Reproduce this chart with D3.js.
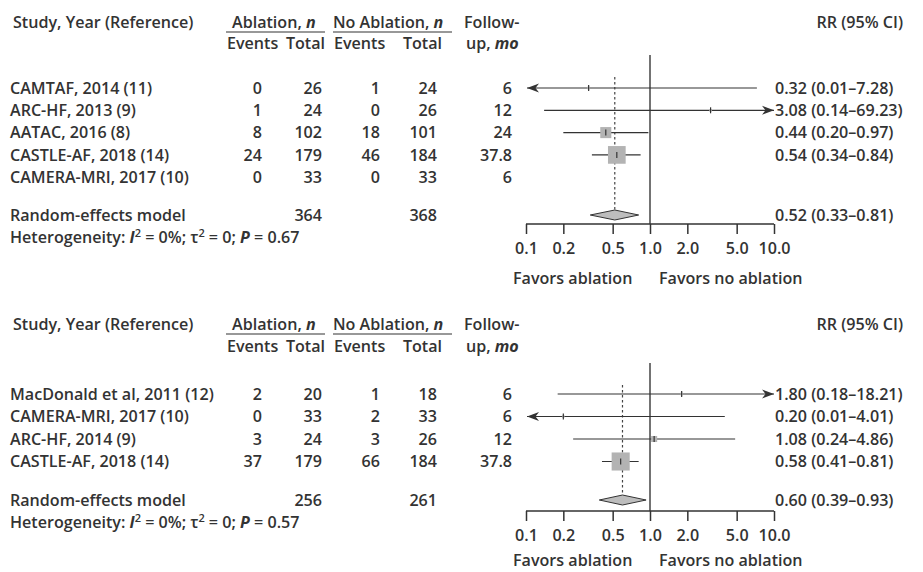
<!DOCTYPE html>
<html>
<head>
<meta charset="utf-8">
<script src="https://cdn.jsdelivr.net/npm/d3@7"></script>
<style>
  body { margin: 0; background: #fff; }
  svg { display: block; }
  text { font-family: "Open Sans", "Noto Sans", sans-serif; font-weight: 600; font-size: 16.1px; fill: #333; }
</style>
</head>
<body>
<svg id="chart" width="923" height="572"></svg>
<script>
// panel 1: all studies
const studies1 = ["CAMTAF, 2014 (11)", "ARC-HF, 2013 (9)", "AATAC, 2016 (8)", "CASTLE-AF, 2018 (14)", "CAMERA-MRI, 2017 (10)"];
const ablEvents1 = [0, 1, 8, 24, 0];
const ablTotal1 = [26, 24, 102, 179, 33];
const noEvents1 = [1, 0, 18, 46, 0];
const noTotal1 = [24, 26, 101, 184, 33];
const followUp1 = ["6", "12", "24", "37.8", "6"];
const rr1 = [0.32, 3.08, 0.44, 0.54, null];
const lower1 = [0.01, 0.14, 0.20, 0.34, null];
const upper1 = [7.28, 69.23, 0.97, 0.84, null];
const weight1 = [1.6, 1.5, 27, 69, 0];
const pooled1 = [0.52, 0.33, 0.81];
const pooledTotals1 = [364, 368];
const pValue1 = "0.67";

// panel 2
const studies2 = ["MacDonald et al, 2011 (12)", "CAMERA-MRI, 2017 (10)", "ARC-HF, 2014 (9)", "CASTLE-AF, 2018 (14)"];
const ablEvents2 = [2, 0, 3, 37];
const ablTotal2 = [20, 33, 24, 179];
const noEvents2 = [1, 2, 3, 66];
const noTotal2 = [18, 33, 26, 184];
const followUp2 = ["6", "6", "12", "37.8"];
const rr2 = [1.80, 0.20, 1.08, 0.58];
const lower2 = [0.18, 0.01, 0.24, 0.41];
const upper2 = [18.21, 4.01, 4.86, 0.81];
const weight2 = [1.5, 1.2, 8, 72];
const pooled2 = [0.60, 0.39, 0.93];
const pooledTotals2 = [256, 261];
const pValue2 = "0.57";

const tickVals = [0.1, 0.2, 0.5, 1, 2, 5, 10];

const svg = d3.select("#chart");
const ink = "#333";

const x = d3.scaleLog().domain([0.1, 10]).range([526, 774]);
const sqSize = d3.scaleSqrt().domain([0, 100]).range([0, 21.3]);

// column positions (right edges of numbers)
const colAblEv = 262, colAblTot = 322, colNoEv = 380, colNoTot = 437, colFollow = 512, colRR = 775;

function fmt(v) { return d3.format(".2f")(v); }

function drawPanel(p) {
  const g = svg.append("g");
  const n = p.studies.length;
  const y = d3.scaleLinear().domain([0, n - 1]).range([p.firstRow, p.firstRow + (n - 1) * p.step]);

  // headers
  g.append("text").attr("x", 13).attr("y", p.head1).attr("dy", "0.35em").text("Study, Year (Reference)");
  const h1 = g.append("text").attr("x", 232).attr("y", p.head1).attr("dy", "0.35em");
  h1.append("tspan").text("Ablation, ");
  h1.append("tspan").attr("font-style", "italic").attr("font-weight", 700).text("n");
  const h2 = g.append("text").attr("x", 333).attr("y", p.head1).attr("dy", "0.35em");
  h2.append("tspan").text("No Ablation, ");
  h2.append("tspan").attr("font-style", "italic").attr("font-weight", 700).text("n");
  g.append("line").attr("x1", 226).attr("x2", 325).attr("y1", p.head1 + 10).attr("y2", p.head1 + 10).attr("stroke", ink).attr("stroke-width", 1.2);
  g.append("line").attr("x1", 333).attr("x2", 452).attr("y1", p.head1 + 10).attr("y2", p.head1 + 10).attr("stroke", ink).attr("stroke-width", 1.2);
  g.append("text").attr("x", 227).attr("y", p.head2).attr("dy", "0.35em").text("Events");
  g.append("text").attr("x", 325).attr("y", p.head2).attr("dy", "0.35em").attr("text-anchor", "end").text("Total");
  g.append("text").attr("x", 334).attr("y", p.head2).attr("dy", "0.35em").text("Events");
  g.append("text").attr("x", 442).attr("y", p.head2).attr("dy", "0.35em").attr("text-anchor", "end").text("Total");
  g.append("text").attr("x", 464).attr("y", p.head1).attr("dy", "0.35em").text("Follow-");
  const fu = g.append("text").attr("x", 466).attr("y", p.head2).attr("dy", "0.35em");
  fu.append("tspan").text("up, ");
  fu.append("tspan").attr("font-style", "italic").attr("font-weight", 700).text("mo");
  g.append("text").attr("x", 903).attr("y", p.head1).attr("dy", "0.35em").attr("text-anchor", "end").text("RR (95% CI)");

  // table rows
  const cols = [[p.ablEvents, colAblEv], [p.ablTotal, colAblTot], [p.noEvents, colNoEv], [p.noTotal, colNoTot], [p.followUp, colFollow]];
  p.studies.forEach((s, i) => {
    g.append("text").attr("x", 10).attr("y", y(i)).attr("dy", "0.35em").text(s);
    cols.forEach(([arr, cx]) => {
      g.append("text").attr("x", cx).attr("y", y(i)).attr("dy", "0.35em").attr("text-anchor", "end").text(arr[i]);
    });
    if (p.rr[i] != null) {
      g.append("text").attr("x", colRR).attr("y", y(i)).attr("dy", "0.35em")
        .text(fmt(p.rr[i]) + " (" + fmt(p.lower[i]) + "\u2013" + fmt(p.upper[i]) + ")");
    }
  });

  // pooled row text
  g.append("text").attr("x", 10).attr("y", p.pooledY).attr("dy", "0.35em").text("Random-effects model");
  g.append("text").attr("x", colAblTot).attr("y", p.pooledY).attr("dy", "0.35em").attr("text-anchor", "end").text(p.totals[0]);
  g.append("text").attr("x", colNoTot).attr("y", p.pooledY).attr("dy", "0.35em").attr("text-anchor", "end").text(p.totals[1]);
  g.append("text").attr("x", colRR).attr("y", p.pooledY).attr("dy", "0.35em")
    .text(fmt(p.pooled[0]) + " (" + fmt(p.pooled[1]) + "\u2013" + fmt(p.pooled[2]) + ")");
  const het = g.append("text").attr("x", 10).attr("y", p.hetY).attr("dy", "0.35em");
  het.append("tspan").text("Heterogeneity: ");
  het.append("tspan").attr("font-style", "italic").attr("font-weight", 700).text("I");
  het.append("tspan").attr("dy", -6).attr("font-size", 11).text("2");
  het.append("tspan").attr("dy", 6).text(" = 0%; \u03C4");
  het.append("tspan").attr("dy", -6).attr("font-size", 11).text("2");
  het.append("tspan").attr("dy", 6).text(" = 0; ");
  het.append("tspan").attr("font-style", "italic").attr("font-weight", 700).text("P");
  het.append("tspan").text(" = " + p.pval);

  // reference lines
  g.append("line").attr("x1", x(1)).attr("x2", x(1)).attr("y1", p.vTop).attr("y2", p.axisY)
    .attr("stroke", "#444").attr("stroke-width", 1.5);
  g.append("line").attr("x1", x(p.pooled[0])).attr("x2", x(p.pooled[0])).attr("y1", p.dashTop).attr("y2", p.pooledY - 5)
    .attr("stroke", "#444").attr("stroke-width", 1.2).attr("stroke-dasharray", "2.5,2.5");

  // CI lines, squares, ticks
  p.studies.forEach((s, i) => {
    if (p.rr[i] == null) return;
    const yy = y(i);
    const lo = Math.max(p.lower[i], 0.1), hi = Math.min(p.upper[i], 10);
    const x0 = x(lo) + (p.lower[i] < 0.1 ? 1 : 0), x1 = x(hi);
    g.append("line").attr("x1", x0).attr("x2", x1).attr("y1", yy).attr("y2", yy).attr("stroke", ink).attr("stroke-width", 1.2);
    if (p.lower[i] < 0.1) {
      g.append("path").attr("d", `M${x0},${yy}L${x0 + 12},${yy - 4.5}L${x0 + 8.5},${yy}L${x0 + 12},${yy + 4.5}Z`).attr("fill", ink);
    }
    if (p.upper[i] > 10) {
      g.append("path").attr("d", `M${x1},${yy}L${x1 - 12},${yy - 4.5}L${x1 - 8.5},${yy}L${x1 - 12},${yy + 4.5}Z`).attr("fill", ink);
    }
    const sz = sqSize(p.weight[i]);
    g.append("rect").attr("x", x(p.rr[i]) - sz / 2).attr("y", yy - sz / 2).attr("width", sz).attr("height", sz)
      .attr("fill", "#b3b3b3");
    g.append("line").attr("x1", x(p.rr[i])).attr("x2", x(p.rr[i])).attr("y1", yy - 3).attr("y2", yy + 3)
      .attr("stroke", ink).attr("stroke-width", 1.2);
  });

  // diamond
  const py = p.pooledY;
  g.append("path")
    .attr("d", `M${x(p.pooled[1])},${py}L${x(p.pooled[0])},${py - 5}L${x(p.pooled[2])},${py}L${x(p.pooled[0])},${py + 5}Z`)
    .attr("fill", "#bdbdbd").attr("stroke", ink).attr("stroke-width", 1);

  // axis
  const axis = d3.axisBottom(x).tickValues(tickVals).tickFormat(d3.format(".1f")).tickSize(10).tickSizeOuter(0).tickPadding(9);
  const ag = g.append("g").attr("transform", `translate(0,${p.axisY})`).call(axis);
  ag.select(".domain").attr("stroke", ink).attr("stroke-width", 1.5).attr("d", `M${x(0.1)},0H${x(10)}`);
  ag.selectAll(".tick line").attr("stroke", ink).attr("stroke-width", 1.5);
  ag.selectAll(".tick text").style("fill", ink);
  ag.attr("font-family", null).attr("font-size", null);

  g.append("text").attr("x", 513).attr("y", p.axisY + p.favorsGap).attr("dy", "0.35em").text("Favors ablation");
  g.append("text").attr("x", 659).attr("y", p.axisY + p.favorsGap).attr("dy", "0.35em").text("Favors no ablation");
}

drawPanel({
  studies: studies1, ablEvents: ablEvents1, ablTotal: ablTotal1, noEvents: noEvents1, noTotal: noTotal1,
  followUp: followUp1, rr: rr1, lower: lower1, upper: upper1, weight: weight1,
  pooled: pooled1, totals: pooledTotals1, pval: pValue1,
  head1: 22, head2: 43, firstRow: 88, step: 22.3, pooledY: 215, hetY: 237,
  vTop: 55, dashTop: 77, axisY: 224, favorsGap: 54
});

drawPanel({
  studies: studies2, ablEvents: ablEvents2, ablTotal: ablTotal2, noEvents: noEvents2, noTotal: noTotal2,
  followUp: followUp2, rr: rr2, lower: lower2, upper: upper2, weight: weight2,
  pooled: pooled2, totals: pooledTotals2, pval: pValue2,
  head1: 324, head2: 346, firstRow: 394, step: 22.5, pooledY: 500, hetY: 522,
  vTop: 363, dashTop: 385, axisY: 511, favorsGap: 49
});
</script>
</body>
</html>
